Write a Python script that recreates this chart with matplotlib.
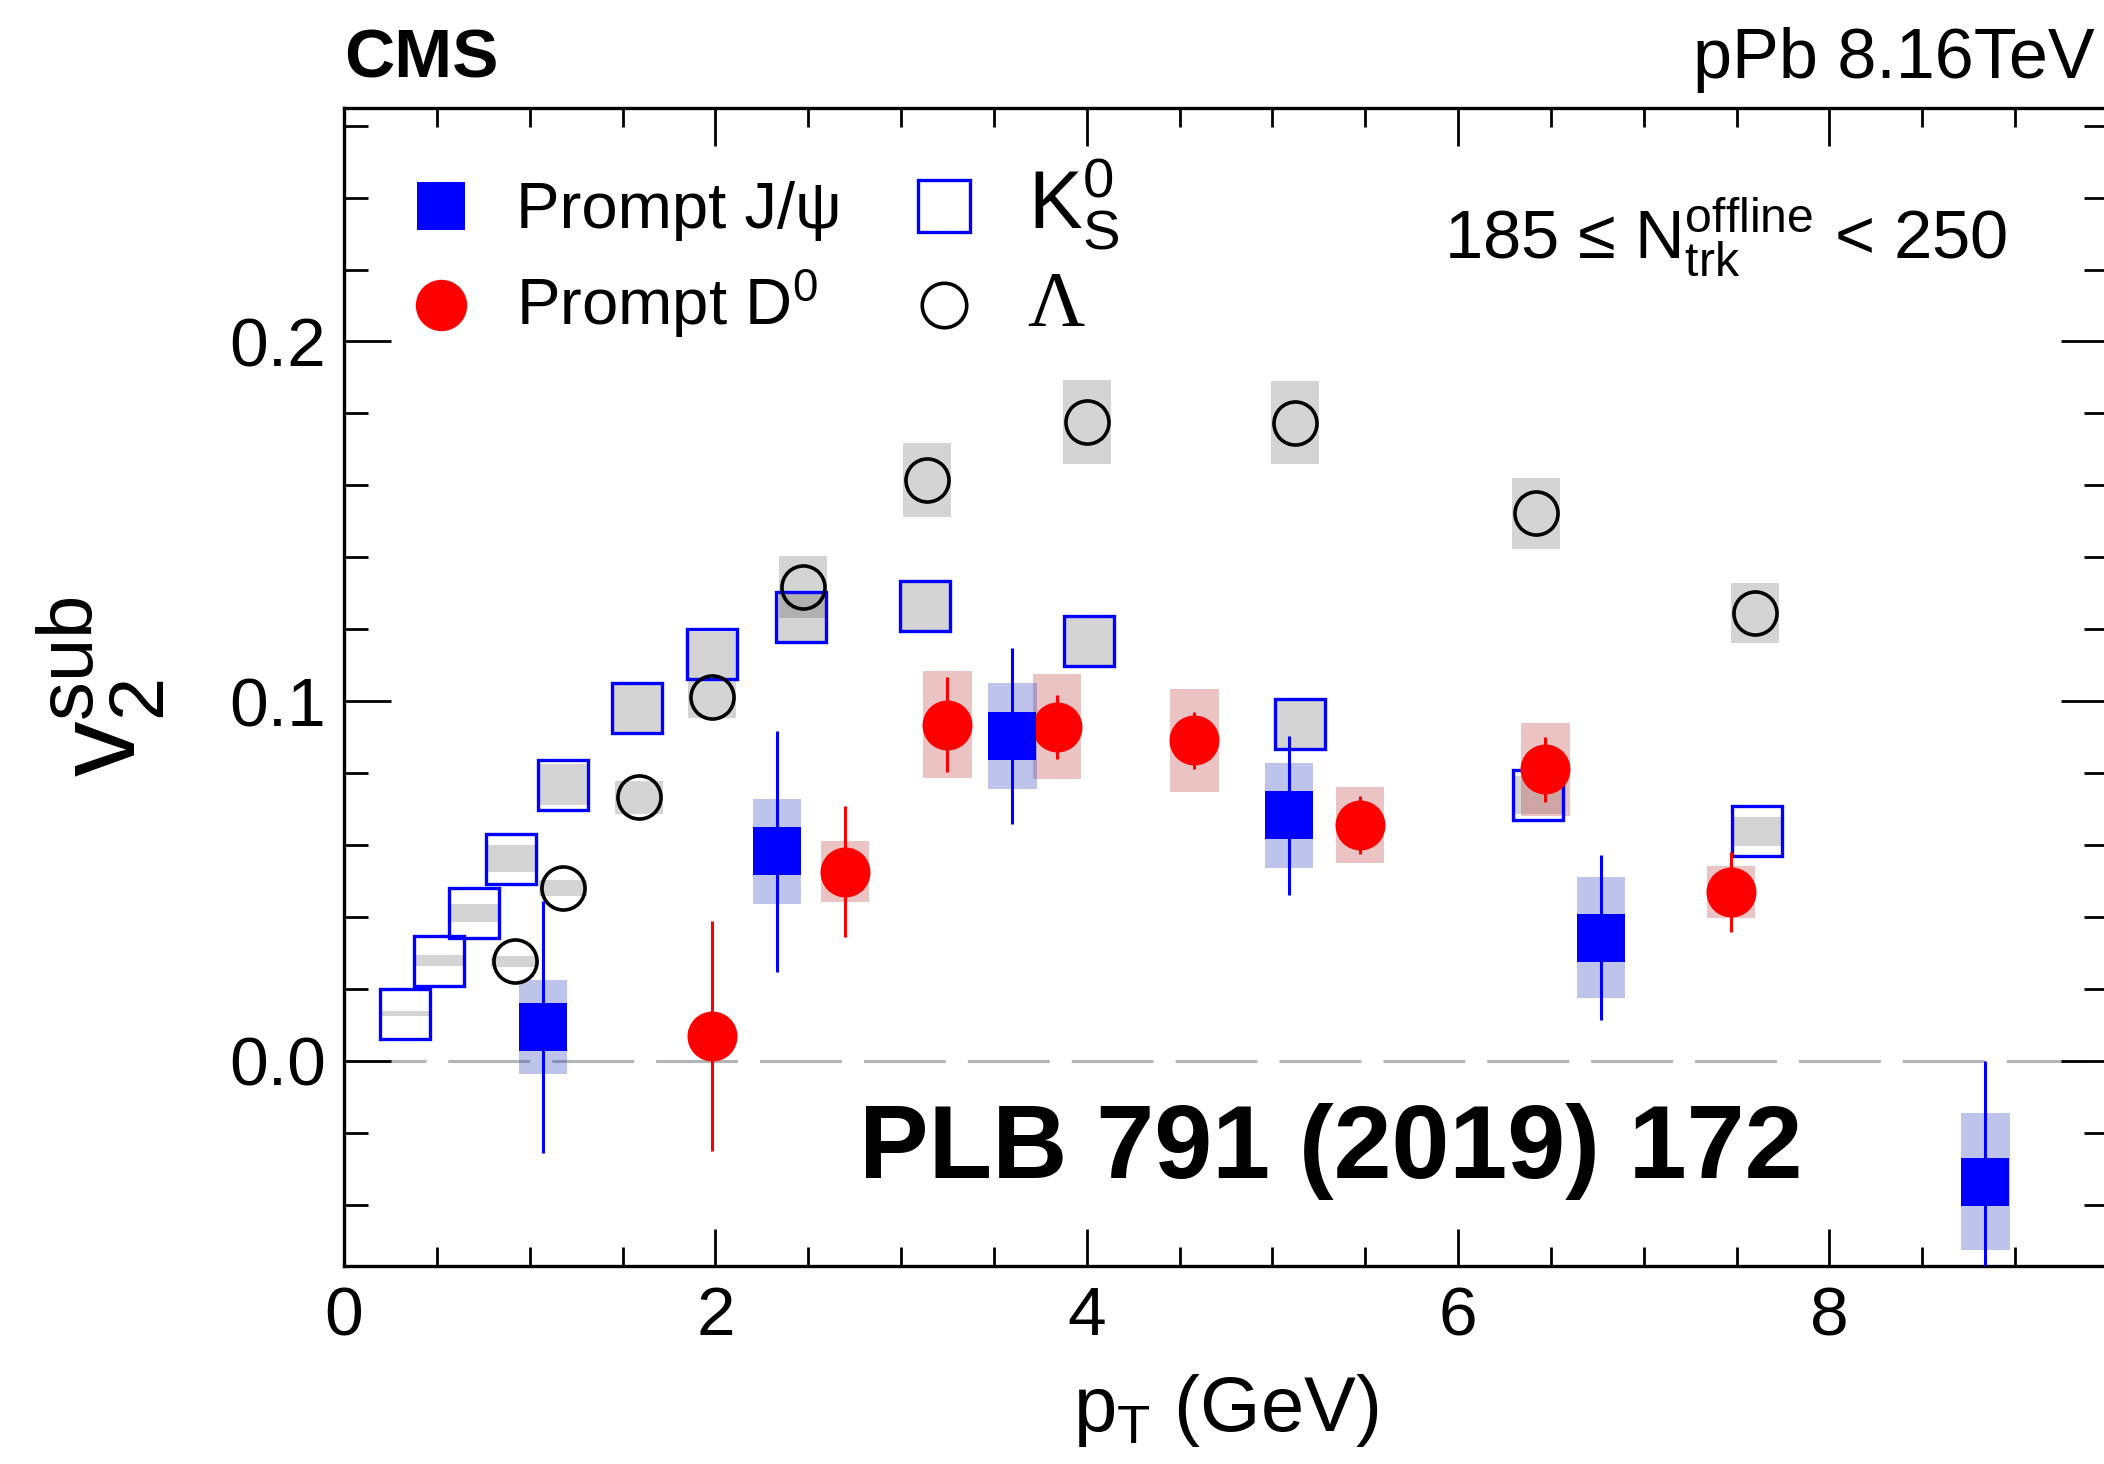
import matplotlib
matplotlib.use("Agg")
import matplotlib.pyplot as plt
from matplotlib.ticker import MultipleLocator

plt.rcParams['font.family'] = ['Liberation Sans', 'DejaVu Sans']
plt.rcParams['mathtext.fontset'] = 'custom'
plt.rcParams['mathtext.rm'] = 'Liberation Sans'
plt.rcParams['mathtext.it'] = 'Liberation Sans:italic'
plt.rcParams['mathtext.bf'] = 'Liberation Sans:bold'
plt.rcParams['mathtext.sf'] = 'Liberation Sans'

# ---------------- data ----------------
k0s_pt = [0.33, 0.51, 0.70, 0.90, 1.18, 1.58, 1.98, 2.46, 3.13, 4.01, 5.15, 6.43, 7.61]
k0s_v2 = [0.0131, 0.0278, 0.0410, 0.0562, 0.0768, 0.0982, 0.1131, 0.1233, 0.1264, 0.1167, 0.0937, 0.0738, 0.0638]
k0s_sys = [0.0007, 0.0016, 0.0025, 0.0037, 0.0056, 0.0068, 0.0062, 0.0068, 0.0068, 0.0068, 0.0068, 0.0053, 0.0040]

lam_pt = [0.92, 1.18, 1.59, 1.98, 2.47, 3.14, 4.00, 5.12, 6.42, 7.60]
lam_v2 = [0.0276, 0.0481, 0.0733, 0.1012, 0.1317, 0.1615, 0.1776, 0.1774, 0.1522, 0.1245]
lam_sys = [0.0015, 0.0022, 0.0046, 0.0059, 0.0087, 0.0104, 0.0118, 0.0116, 0.0099, 0.0083]

jpsi_pt = [1.07, 2.33, 3.60, 5.09, 6.77, 8.84]
jpsi_v2 = [0.0094, 0.0582, 0.0903, 0.0682, 0.0342, -0.0336]
jpsi_stat = [0.0350, 0.0334, 0.0244, 0.0222, 0.0230, 0.0336]
jpsi_sys = [0.0130, 0.0146, 0.0147, 0.0145, 0.0169, 0.0190]

d0_pt = [1.98, 2.70, 3.25, 3.84, 4.58, 5.47, 6.47, 7.47]
d0_v2 = [0.0069, 0.0526, 0.0934, 0.0928, 0.0891, 0.0656, 0.0810, 0.0469]
d0_stat = [0.0320, 0.0183, 0.0132, 0.0090, 0.0080, 0.0080, 0.0090, 0.0110]
d0_sys = [0.0020, 0.0084, 0.0149, 0.0146, 0.0143, 0.0105, 0.0130, 0.0073]

xticks = [0, 2, 4, 6, 8]
yticks = [0.0, 0.1, 0.2]
ytick_labels = ["0.0", "0.1", "0.2"]

# ---------------- styles ----------------
W, H = 2104, 1464
BLUE = '#0000ff'
RED = '#ff0000'
GRAY_SYS = (0, 0, 0, 0.17)
RED_SYS = (0.75, 0.23, 0.23, 0.30)
BLUE_SYS = (0.15, 0.23, 0.75, 0.30)
BOXW = 0.26

fig = plt.figure(figsize=(W / 100, H / 100), dpi=100)
ax = fig.add_axes([344 / W, 1 - 1265.7 / H, 1764 / W, 1158 / H])
ax.set_xlim(0, 9.5)
ax.set_ylim(-0.057, 0.265)

ax.axhline(0, color='#b4b4b4', lw=2.2, dashes=(26.8, 7.2), zorder=0.5)


def sysbox(x, y, s, color):
    ax.bar(x, [2 * v for v in s], bottom=[a - b for a, b in zip(y, s)],
           width=BOXW, color=color, linewidth=0, zorder=1)


sysbox(k0s_pt, k0s_v2, k0s_sys, GRAY_SYS)
sysbox(lam_pt, lam_v2, lam_sys, GRAY_SYS)
sysbox(d0_pt, d0_v2, d0_sys, RED_SYS)
sysbox(jpsi_pt, jpsi_v2, jpsi_sys, BLUE_SYS)

ax.plot(k0s_pt, k0s_v2, ls='none', marker='s', ms=36, mfc='none', mec=BLUE, mew=2.4, zorder=3)
ax.plot(lam_pt, lam_v2, ls='none', marker='o', ms=31, mfc='none', mec='black', mew=2.6, zorder=3.2)

ax.errorbar(d0_pt, d0_v2, yerr=d0_stat, fmt='none', ecolor=RED, elinewidth=2.2, capsize=0, zorder=4)
ax.plot(d0_pt, d0_v2, ls='none', marker='o', ms=36, mfc=RED, mec=RED, mew=0, zorder=4.1)

ax.errorbar(jpsi_pt, jpsi_v2, yerr=jpsi_stat, fmt='none', ecolor=BLUE, elinewidth=2.2, capsize=0, zorder=5)
ax.plot(jpsi_pt, jpsi_v2, ls='none', marker='s', ms=34.5, mfc=BLUE, mec=BLUE, mew=0, zorder=5.1)

# ---------------- axes style ----------------
for sp in ax.spines.values():
    sp.set_linewidth(2.4)
ax.set_xticks(xticks)
ax.set_xticklabels([str(t) for t in xticks])
ax.set_yticks(yticks)
ax.set_yticklabels(ytick_labels)
ax.xaxis.set_minor_locator(MultipleLocator(0.5))
ax.yaxis.set_minor_locator(MultipleLocator(0.02))
ax.tick_params(axis='both', which='both', direction='in', top=True, right=True, width=2.0)
ax.tick_params(axis='x', which='major', length=27, pad=14, labelsize=50)
ax.tick_params(axis='x', which='minor', length=14)
ax.tick_params(axis='y', which='major', length=34, pad=13, labelsize=50)
ax.tick_params(axis='y', which='minor', length=17)

ax.set_xlabel(r'p$_{\mathrm{T}}$ (GeV)', fontsize=56)
ax.xaxis.set_label_coords(0.5, (1265.7 - 1372) / 1158)
ax.set_ylabel(r'$\mathrm{v}_{2}^{\mathrm{sub}}$', fontsize=80)
ax.yaxis.set_label_coords((168 - 344) / 1764, 0.5)

# ---------------- texts ----------------
fig.text(344 / W, 1 - 78 / H, 'CMS', fontsize=50, fontweight='bold', ha='left', va='baseline')
fig.text(2095 / W, 1 - 78 / H, 'pPb 8.16TeV', fontsize=50.5, ha='right', va='baseline')
fig.text(1444 / W, 1 - 258 / H, r'185 ≤ N$_{\mathrm{trk}}^{\mathrm{offline}}$ < 250', fontsize=49.5,
         ha='left', va='baseline')
fig.text(859 / W, 1 - 1178 / H, 'PLB 791 (2019) 172', fontsize=75, fontweight='bold',
         ha='left', va='baseline')

# ---------------- legend (manual, layout positions) ----------------
def ax_xy(px, py):
    return (px - 344) / 1764, (1265.7 - py) / 1158

kx1, ky1 = ax_xy(440.5, 205.7)
kx2, ky2 = ax_xy(944, 305)
ax.plot([kx1], [ky1], transform=ax.transAxes, marker='s', ms=34.5, mfc=BLUE, mew=0, ls='none', clip_on=False)
ax.plot([kx1], [ky2], transform=ax.transAxes, marker='o', ms=37, mfc=RED, mew=0, ls='none', clip_on=False)
ax.plot([kx2], [ky1], transform=ax.transAxes, marker='s', ms=37, mfc='none', mec=BLUE, mew=2.4, ls='none', clip_on=False)
ax.plot([kx2], [ky2], transform=ax.transAxes, marker='o', ms=32, mfc='none', mec='black', mew=2.6, ls='none', clip_on=False)

tx1, tb1 = ax_xy(515.6, 228)
tx2, tb2 = ax_xy(1027.7, 325)
ax.text(tx1, tb1, 'Prompt J/ψ', transform=ax.transAxes, fontsize=47, va='baseline', ha='left')
ax.text(tx1, tb2, r'Prompt D$^{0}$', transform=ax.transAxes, fontsize=47, va='baseline', ha='left')
ax.text(tx2, tb1, r'K$^{0}_{\mathrm{S}}$', transform=ax.transAxes, fontsize=58, va='baseline', ha='left')
ax.text(tx2, tb2, 'Λ', transform=ax.transAxes, fontsize=57, va='baseline', ha='left',
        family=['Liberation Serif', 'DejaVu Serif'])

fig.savefig('out.png', dpi=100)
